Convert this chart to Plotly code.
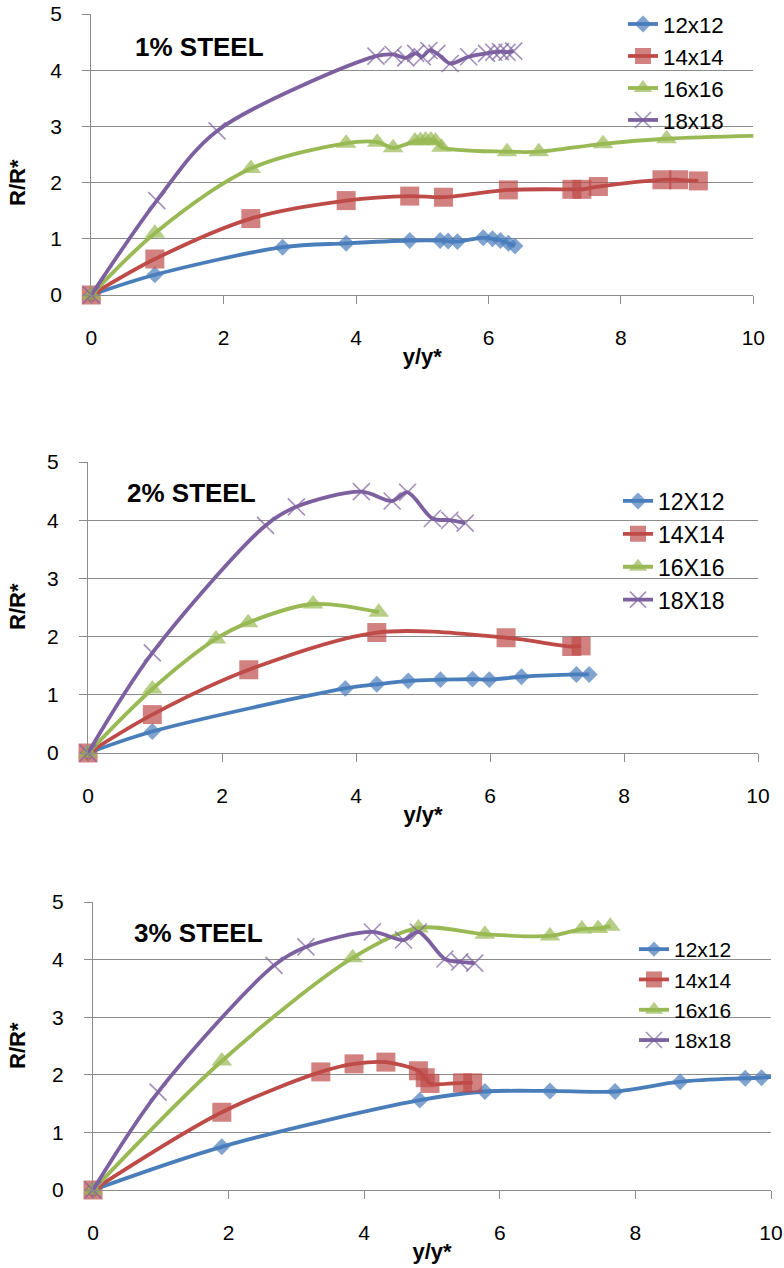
import plotly.graph_objects as go

W, H = 784, 1268

SERIES = ["12x12", "14x14", "16x16", "18x18"]
SERIES_UP = ["12X12", "14X14", "16X16", "18X18"]
PANEL_TITLES = ["1% STEEL", "2% STEEL", "3% STEEL"]

# ---------------- Panel 1: 1% STEEL ----------------
p1_12_x = [0, 0.96, 2.89, 3.85, 4.81, 5.27, 5.39, 5.53, 5.92, 6.06, 6.18, 6.30, 6.40]
p1_12_y = [0, 0.36, 0.85, 0.92, 0.97, 0.97, 0.96, 0.95, 1.02, 1.00, 0.97, 0.92, 0.87]
p1_14_x = [0, 0.96, 2.41, 3.85, 4.81, 5.32, 6.30, 7.26, 7.41, 7.66, 8.62, 8.87, 9.17]
p1_14_y = [0, 0.64, 1.36, 1.68, 1.76, 1.74, 1.87, 1.88, 1.88, 1.93, 2.05, 2.05, 2.03]
p1_16_x = [0, 0.96, 2.41, 3.85, 4.32, 4.56, 4.89, 4.97, 5.05, 5.13, 5.20, 5.29, 6.28, 6.76, 7.73, 8.69, 10.4]
p1_16_y = [0, 1.10, 2.25, 2.70, 2.72, 2.62, 2.74, 2.75, 2.76, 2.76, 2.74, 2.63, 2.55, 2.55, 2.69, 2.78, 2.84]
p1_18_x = [0, 0.99, 1.90, 4.30, 4.56, 4.75, 4.90, 5.00, 5.10, 5.22, 5.42, 5.70, 5.97, 6.08, 6.18, 6.28, 6.38]
p1_18_y = [0, 1.68, 2.92, 4.25, 4.28, 4.22, 4.30, 4.24, 4.35, 4.30, 4.12, 4.24, 4.30, 4.32, 4.33, 4.32, 4.34]

# ---------------- Panel 2: 2% STEEL ----------------
p2_12_x = [0, 0.96, 3.84, 4.31, 4.78, 5.26, 5.74, 5.99, 6.47, 7.29, 7.48]
p2_12_y = [0, 0.37, 1.11, 1.18, 1.24, 1.26, 1.27, 1.26, 1.31, 1.35, 1.35]
p2_14_x = [0, 0.96, 2.40, 4.31, 6.24, 7.22, 7.36]
p2_14_y = [0, 0.66, 1.43, 2.07, 1.98, 1.83, 1.84]
p2_16_x = [0, 0.96, 1.91, 2.39, 3.36, 4.34]
p2_16_y = [0, 1.10, 1.96, 2.24, 2.56, 2.42]
p2_18_x = [0, 0.96, 2.65, 3.11, 4.08, 4.54, 4.77, 5.14, 5.40, 5.63]
p2_18_y = [0, 1.72, 3.91, 4.23, 4.49, 4.33, 4.48, 4.03, 4.00, 3.95]

# ---------------- Panel 3: 3% STEEL ----------------
p3_12_x = [0, 1.90, 4.82, 5.78, 6.74, 7.70, 8.66, 9.62, 9.86, 10.4]
p3_12_y = [0, 0.75, 1.56, 1.71, 1.72, 1.71, 1.88, 1.94, 1.95, 2.00]
p3_14_x = [0, 1.90, 3.36, 3.85, 4.32, 4.80, 4.90, 4.97, 5.45, 5.60]
p3_14_y = [0, 1.35, 2.05, 2.19, 2.22, 2.07, 1.95, 1.85, 1.86, 1.86]
p3_16_x = [0, 1.90, 3.83, 4.80, 5.78, 6.74, 7.21, 7.45, 7.63]
p3_16_y = [0, 2.24, 4.03, 4.55, 4.44, 4.41, 4.53, 4.54, 4.58]
p3_18_x = [0, 0.96, 2.67, 3.14, 4.12, 4.58, 4.80, 5.19, 5.41, 5.63]
p3_18_y = [0, 1.70, 3.90, 4.22, 4.48, 4.34, 4.48, 4.01, 3.96, 3.94]

X_TICKS = [0, 2, 4, 6, 8, 10]
Y_TICKS = [0, 1, 2, 3, 4, 5]

COLORS = ["#4A7EBB", "#BE4B48", "#98B954", "#7D60A0"]
SYMBOLS = ["diamond", "square", "triangle-up", "x-thin"]
MSIZES = [13, 19, 18, 17]

GRID = "#8C8C8C"
FONT = "Liberation Sans, Arial, sans-serif"

# pixel geometry of the plot areas (left, right, top, bottom), legends, titles
AREAS = [(91.3, 753.3, 14, 295), (88, 758, 462, 753), (93, 771, 902, 1190)]
LEGEND_POS = [(623, 3), (618, 479.5), (634, 929)]
LEGEND_FONT = [22.3, 23, 21]
TITLE_POS = [(133, 47), (125, 493), (132, 933)]
YTITLE_POS = [(17, 183), (17, 607), (17, 1046)]

panels = [
    [(p1_12_x, p1_12_y), (p1_14_x, p1_14_y), (p1_16_x, p1_16_y), (p1_18_x, p1_18_y)],
    [(p2_12_x, p2_12_y), (p2_14_x, p2_14_y), (p2_16_x, p2_16_y), (p2_18_x, p2_18_y)],
    [(p3_12_x, p3_12_y), (p3_14_x, p3_14_y), (p3_16_x, p3_16_y), (p3_18_x, p3_18_y)],
]
names = [SERIES, SERIES_UP, SERIES]

fig = go.Figure()

for p, data in enumerate(panels):
    xa = "x" if p == 0 else f"x{p+1}"
    ya = "y" if p == 0 else f"y{p+1}"
    lg = "legend" if p == 0 else f"legend{p+1}"
    for s, (xs, ys) in enumerate(data):
        sizes = [MSIZES[s] if x <= 10 else 0 for x in xs]
        marker = dict(symbol=SYMBOLS[s], size=sizes, color=COLORS[s])
        if SYMBOLS[s] == "x-thin":
            marker["line"] = dict(color=COLORS[s], width=1.6)
        else:
            marker["line"] = dict(width=0)
        fig.add_trace(go.Scatter(
            x=xs, y=ys, mode="lines+markers", name=names[p][s],
            line=dict(color=COLORS[s], width=3.8, shape="spline", smoothing=0.9),
            marker=marker, cliponaxis=False,
            xaxis=xa, yaxis=ya, legend=lg,
        ))

layout = dict(
    width=W, height=H, margin=dict(l=0, r=0, t=0, b=0, autoexpand=False),
    paper_bgcolor="white", plot_bgcolor="white",
    font=dict(family=FONT, color="black"),
    annotations=[],
)

for p, (l, r, t, b) in enumerate(AREAS):
    xk = "xaxis" if p == 0 else f"xaxis{p+1}"
    yk = "yaxis" if p == 0 else f"yaxis{p+1}"
    xa = "x" if p == 0 else f"x{p+1}"
    ya = "y" if p == 0 else f"y{p+1}"
    layout[xk] = dict(
        domain=[l / W, r / W], anchor=ya, range=[0, 10],
        tickvals=X_TICKS, ticks="outside", ticklen=8, tickcolor=GRID,
        showline=True, linecolor=GRID, linewidth=1.3, showgrid=False, zeroline=False,
        tickfont=dict(size=21, family=FONT), ticklabelstandoff=16,
        title=dict(text="<b>y/y*</b>", font=dict(size=22, family=FONT), standoff=0),
        fixedrange=True, automargin=False,
    )
    layout[yk] = dict(
        domain=[1 - b / H, 1 - t / H], anchor=xa, range=[0, 5],
        tickvals=Y_TICKS, ticks="outside", ticklen=8, tickcolor=GRID,
        showline=True, linecolor=GRID, linewidth=1.3,
        showgrid=True, gridcolor=GRID, gridwidth=1.3, zeroline=False,
        tickfont=dict(size=21, family=FONT), ticklabelstandoff=16,
        fixedrange=True, automargin=False,
    )
    lk = "legend" if p == 0 else f"legend{p+1}"
    lx, ly = LEGEND_POS[p]
    layout[lk] = dict(
        x=lx / W, y=1 - ly / H, xanchor="left", yanchor="top",
        bgcolor="rgba(0,0,0,0)", font=dict(size=LEGEND_FONT[p], family=FONT),
        itemwidth=30, tracegroupgap=0,
    )
    tx, ty = TITLE_POS[p]
    layout["annotations"].append(dict(
        text=f"<b>{PANEL_TITLES[p]}</b>", x=tx / W, y=1 - ty / H,
        xref="paper", yref="paper", xanchor="left", yanchor="middle",
        showarrow=False, font=dict(size=26, family=FONT, color="black"),
    ))
    yx, yy = YTITLE_POS[p]
    layout["annotations"].append(dict(
        text="<b>R/R*</b>", x=yx / W, y=1 - yy / H, textangle=-90,
        xref="paper", yref="paper", xanchor="center", yanchor="middle",
        showarrow=False, font=dict(size=22, family=FONT, color="black"),
    ))

fig.update_layout(**layout)
fig.write_html("out.html")
